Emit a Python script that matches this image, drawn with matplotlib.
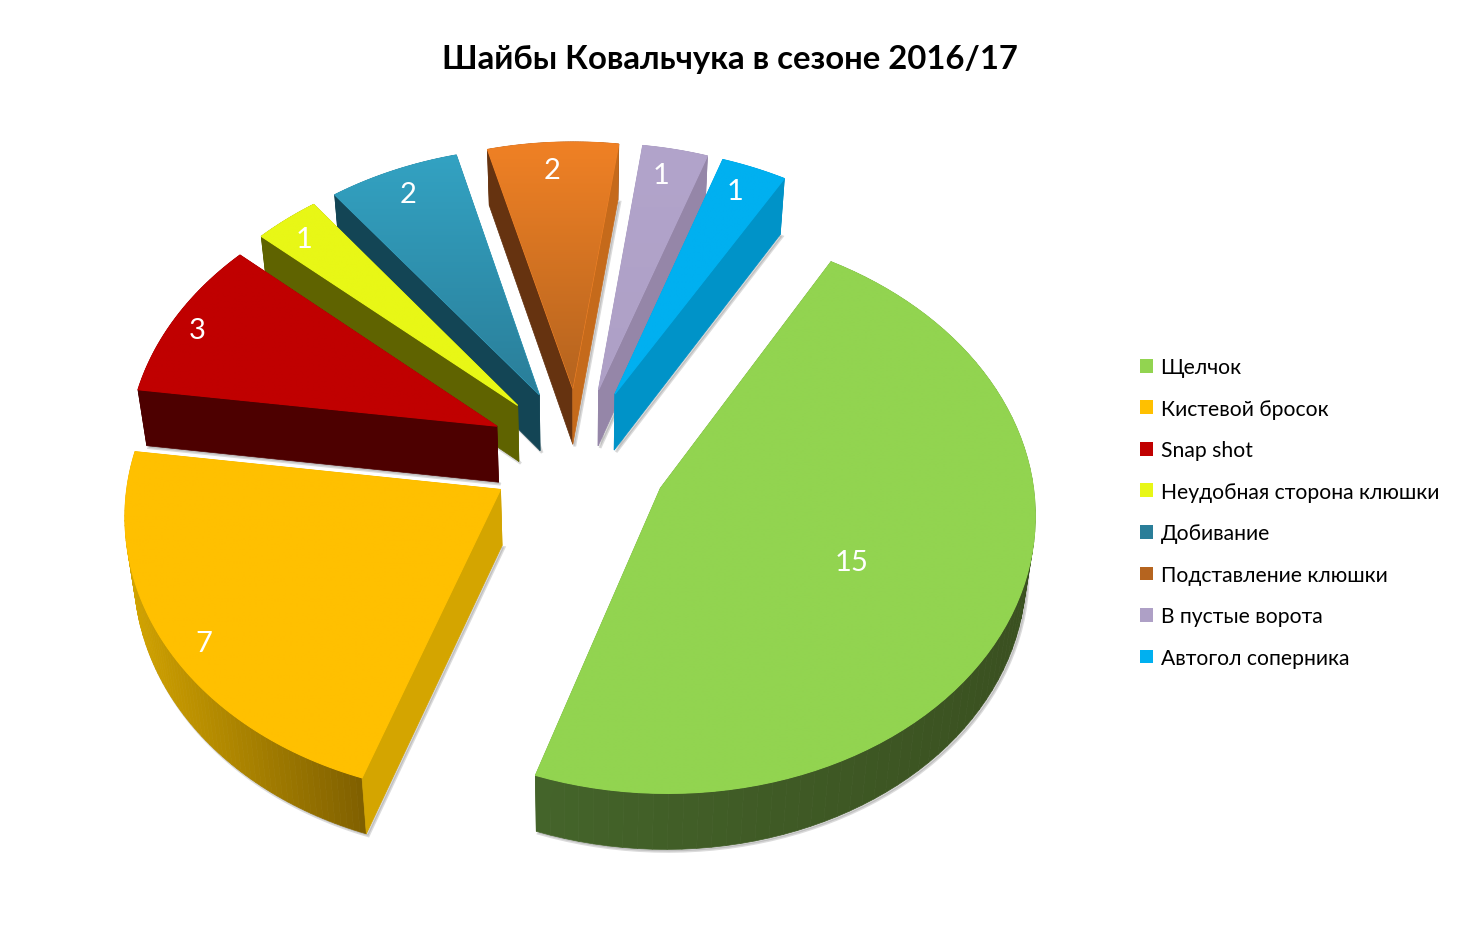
import numpy as np
import matplotlib
matplotlib.use('Agg')
import matplotlib.pyplot as plt
from matplotlib.patches import Polygon, Patch
from matplotlib.colors import to_rgb

plt.rcParams['font.family'] = ['Lato', 'Open Sans', 'DejaVu Sans']

categories = ['Щелчок', 'Кистевой бросок', 'Snap shot', 'Неудобная сторона клюшки',
              'Добивание', 'Подставление клюшки', 'В пустые ворота', 'Автогол соперника']
goals = [15, 7, 3, 1, 2, 2, 1, 1]

# top face colours (upper, lower), walls (first edge, second edge), rim (left, right)
top_colors = [('#92D450', '#92D450'), ('#FFC000', '#FFC000'), ('#C00000', '#C00000'),
              ('#E8F716', '#E8F716'), ('#33A2C2', '#2A7E99'), ('#F08125', '#B5641F'),
              ('#B2A4CB', '#AEA0C6'), ('#00B0F0', '#00B0F0')]
edge_a = ['#3D5722', '#D4A500', '#4D0000', '#5F6300', '#134555', '#663310', '#9586A8', '#0093C8']
edge_b = ['#44642A', '#D4A500', '#4D0000', '#5F6300', '#134555', '#C56A1B', '#9586A8', '#0093C8']
rim_colors = [('#44642A', '#3A5020'), ('#806000', '#D4A500'), ('#4D0000', '#4D0000'),
              ('#5F6300', '#5F6300'), ('#134555', '#134555'), ('#663310', '#663310'),
              ('#9586A8', '#9586A8'), ('#0093C8', '#0093C8')]
label_pos = [(852, 563), (204, 644), (197, 331), (304, 240), (408, 195), (552, 171), (661, 176), (735, 192)]
# the big slice sits a little lower than the explode model gives
y_nudge = [6, 0, 0, 0, 0, 0, 0, 0]

# view of the exploded pie, in pixels
CX, CY = 578, 455
R = 370
EXPLODE = 90
K = 0.746
PERSP = 0.08
DEPTH = 56
START = 30.3


def proj(u, v, z=0.0, dy=0.0):
    s = 1 / (1 + PERSP * v / R)
    x = CX + u * s * (1 - 0.02 * z)
    y = CY - K * v * s + DEPTH * z + dy
    return x, y


def arc(th, ex, ey, z=0.0, dy=0.0):
    t = np.radians(th)
    return proj(R * np.sin(t) + ex, R * np.cos(t) + ey, z, dy)


def grad_fill(ax, pts, c1, c2, zorder, horizontal=False):
    pts = np.asarray(pts)
    x0, x1 = pts[:, 0].min(), pts[:, 0].max()
    y0, y1 = pts[:, 1].min(), pts[:, 1].max()
    a, b = np.array(to_rgb(c1)), np.array(to_rgb(c2))
    t = np.linspace(0, 1, 128)
    g = a + (b - a) * t[:, None]
    img = g[None, :, :] if horizontal else g[:, None, :]
    im = ax.imshow(img, extent=(x0, x1, y1, y0), aspect='auto', zorder=zorder, interpolation='bilinear')
    clip = Polygon(pts, closed=True, transform=ax.transData, fc='none', ec='none')
    ax.add_patch(clip)
    im.set_clip_path(clip)


fig = plt.figure(figsize=(14.6, 9.53), dpi=100)
ax = fig.add_axes([0, 0, 1, 1])

sweeps = np.array(goals) / sum(goals) * 360
starts = START + np.concatenate([[0], np.cumsum(sweeps)[:-1]])

z = 1
for i in [6, 7, 5, 4, 3, 2, 1, 0]:
    a, b = starts[i], starts[i] + sweeps[i]
    mid = np.radians((a + b) / 2)
    ex, ey = EXPLODE * np.sin(mid), EXPLODE * np.cos(mid)
    ths = np.linspace(a, b, 80)
    dy = y_nudge[i]

    top_x, top_y = arc(ths, ex, ey, 0, dy)
    ax0, ay0 = proj(ex, ey, 0, dy)
    low_x, low_y = arc(ths, ex, ey, 1, dy)
    bx0, by0 = proj(ex, ey, 1, dy)

    # soft shadow under the slice
    shadow = np.column_stack([np.r_[bx0, low_x], np.r_[by0, low_y]]) + [2, 2]
    ax.add_patch(Polygon(shadow, fc='#888888', ec='#888888', lw=2, alpha=0.3, zorder=z))
    z += 1

    # rim, coloured strip by strip
    c1, c2 = np.array(to_rgb(rim_colors[i][0])), np.array(to_rgb(rim_colors[i][1]))
    for j in range(len(ths) - 1):
        xs = [top_x[j], top_x[j + 1], low_x[j + 1], low_x[j]]
        ys = [top_y[j], top_y[j + 1], low_y[j + 1], low_y[j]]
        mx = (np.mean(xs) - min(top_x)) / max(max(top_x) - min(top_x), 1)
        col = c1 + (c2 - c1) * (1 - mx if i == 1 else mx)
        ax.add_patch(Polygon(np.column_stack([xs, ys]), fc=col, ec=col, lw=0.5, zorder=z))
    z += 1

    # radial walls
    ax.add_patch(Polygon([(ax0, ay0), (top_x[0], top_y[0]), (low_x[0], low_y[0]), (bx0, by0)],
                         fc=edge_a[i], ec=edge_a[i], lw=0.5, zorder=z))
    ax.add_patch(Polygon([(ax0, ay0), (top_x[-1], top_y[-1]), (low_x[-1], low_y[-1]), (bx0, by0)],
                         fc=edge_b[i], ec=edge_b[i], lw=0.5, zorder=z))
    z += 1

    # top face, outline first so the clipped gradient edge stays clean
    top_pts = np.column_stack([np.r_[ax0, top_x], np.r_[ay0, top_y]])
    ax.add_patch(Polygon(top_pts, fc=top_colors[i][0], ec=top_colors[i][0], lw=0.8, zorder=z))
    z += 1
    grad_fill(ax, top_pts, top_colors[i][0], top_colors[i][1], z)
    z += 1

for (x, y), g in zip(label_pos, goals):
    ax.text(x, y, str(g), color='white', fontsize=21, ha='center', va='center', zorder=1000)

ax.text(730, 59, 'Шайбы Ковальчука в сезоне 2016/17', fontsize=23.7, fontweight='bold',
        ha='center', va='center', color='black')

handles = [Patch(fc=top_colors[i][1], ec='none') for i in range(len(categories))]
ax.legend(handles, categories, loc='upper left', bbox_to_anchor=(1119, 337),
          bbox_transform=ax.transData, frameon=False, fontsize=15.2,
          handlelength=0.62, handleheight=0.62, handletextpad=0.35,
          labelspacing=1.02, borderpad=0.5, labelcolor='black')

ax.set_xlim(0, 1460)
ax.set_ylim(953, 0)
ax.axis('off')
fig.savefig('out.png', dpi=100, facecolor='white')
